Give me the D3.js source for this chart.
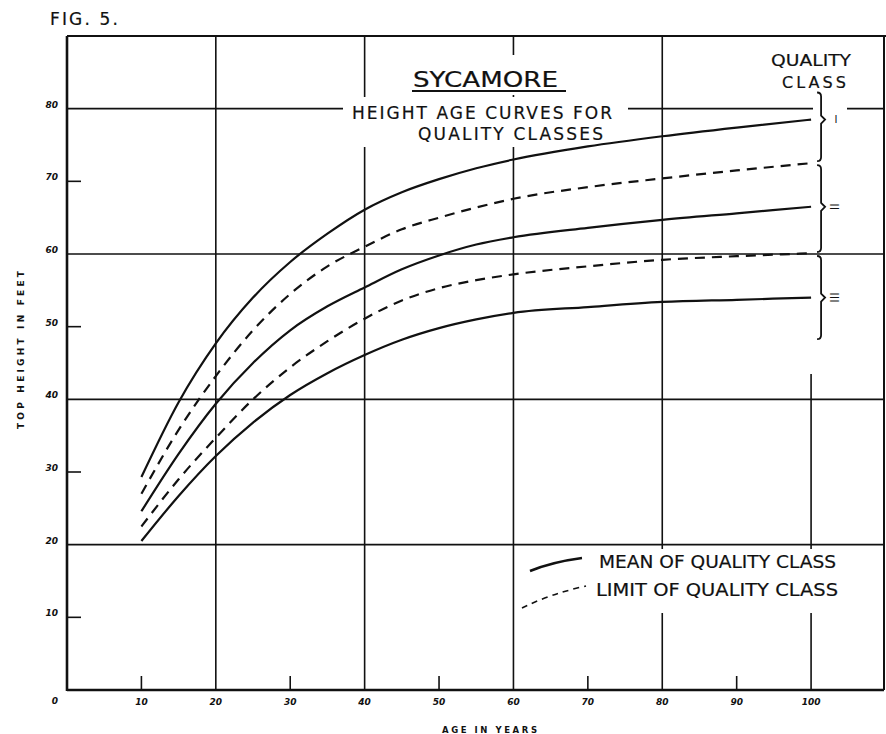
<!DOCTYPE html>
<html>
<head>
<meta charset="utf-8">
<script src="https://cdn.jsdelivr.net/npm/d3@7"></script>
<style>
  body { margin: 0; background: #fff; }
  svg { display: block; }
  text { font-family: "DejaVu Sans", sans-serif; fill: #111; }
  .pen { stroke: #111; stroke-width: 0.2; }
</style>
</head>
<body>
<svg id="chart" width="886" height="734"></svg>
<script>
// ages
const ages = [10, 15, 20, 25, 30, 35, 40, 45, 50, 55, 60, 70, 80, 90, 100]

// top height in feet, one array per curve
const meanI =       [29.3, 39.6, 47.7, 54.0, 58.9, 62.8, 66.1, 68.5, 70.3, 71.8, 73.0, 74.8, 76.2, 77.4, 78.5]
const limitI_II =   [27.0, 35.8, 43.2, 49.5, 54.5, 58.3, 61.0, 63.4, 65.0, 66.4, 67.6, 69.2, 70.4, 71.5, 72.5]
const meanII =      [24.6, 32.5, 39.4, 45.0, 49.5, 52.8, 55.4, 57.9, 59.8, 61.3, 62.3, 63.6, 64.7, 65.6, 66.5]
const limitII_III = [22.5, 29.0, 34.7, 40.0, 44.4, 48.0, 51.1, 53.6, 55.3, 56.4, 57.2, 58.3, 59.2, 59.7, 60.1]
const meanIII =     [20.5, 26.7, 32.2, 36.8, 40.6, 43.6, 46.1, 48.2, 49.8, 51.0, 51.9, 52.7, 53.4, 53.7, 54.0]

const curves = [
  { values: meanI, kind: "mean" },
  { values: limitI_II, kind: "limit" },
  { values: meanII, kind: "mean" },
  { values: limitII_III, kind: "limit" },
  { values: meanIII, kind: "mean" }
]

// quality class brackets on the right
const classNames = ["I", "II", "III"]
const classTop = [82.5, 72.5, 60]
const classBottom = [72.5, 60, 48]
const classMid = [78.5, 66.5, 54]

const xTicks = [10, 20, 30, 40, 50, 60, 70, 80, 90, 100]
const xTickLabels = ["10", "20", "30", "40", "50", "60", "70", "80", "90", "100"]
const yTicks = [0, 10, 20, 30, 40, 50, 60, 70, 80]
const yTickLabels = ["0", "10", "20", "30", "40", "50", "60", "70", "80"]
const xMajor = [20, 40, 60, 80]
const xMinor = [10, 30, 50, 70, 90]
const yMajor = [20, 40, 60, 80]
const yMinor = [10, 30, 50, 70]

const svg = d3.select("#chart")
svg.append("rect").attr("width", 886).attr("height", 734).attr("fill", "#fff")

const xMax = 109.8
const yMax = 90
const x = d3.scaleLinear().domain([0, xMax]).range([67, 884])
const y = d3.scaleLinear().domain([0, yMax]).range([690, 36])

const grid = svg.append("g").attr("stroke", "#111").attr("stroke-width", 1.6)

// full lines
for (let v of xMajor) {
  grid.append("line").attr("x1", x(v)).attr("x2", x(v)).attr("y1", y(0)).attr("y2", y(yMax))
}
// age 100 line stops under the brackets
grid.append("line").attr("x1", x(100)).attr("x2", x(100)).attr("y1", y(0)).attr("y2", y(43.5))
for (let v of yMajor) {
  grid.append("line").attr("x1", x(0)).attr("x2", x(xMax)).attr("y1", y(v)).attr("y2", y(v))
}
// short ticks
for (let v of xMinor) {
  grid.append("line").attr("x1", x(v)).attr("x2", x(v)).attr("y1", y(0)).attr("y2", y(0) - 14)
}
for (let v of yMinor) {
  grid.append("line").attr("x1", x(0)).attr("x2", x(0) + 14).attr("y1", y(v)).attr("y2", y(v))
}

// white patches where the lettering breaks the grid
const blank = svg.append("g").attr("fill", "#fff")
blank.append("rect").attr("x", 400).attr("y", 55).attr("width", 172).attr("height", 40)
blank.append("rect").attr("x", 343).attr("y", 97).attr("width", 285).attr("height", 50)
blank.append("rect").attr("x", 590).attr("y", 549).attr("width", 258).attr("height", 64)
blank.append("rect").attr("x", 813).attr("y", y(83)).attr("width", 34).attr("height", y(73) - y(83))

// curves
const line = d3.line()
  .x((d, i) => x(ages[i]))
  .y((d) => y(d))
  .curve(d3.curveMonotoneX)

svg.append("g")
  .selectAll("path")
  .data(curves)
  .join("path")
  .attr("d", (c) => line(c.values))
  .attr("fill", "none")
  .attr("stroke", "#111")
  .attr("stroke-width", 2.2)
  .attr("stroke-dasharray", (c) => c.kind == "limit" ? "10,7" : null)

// brackets
const bx = x(100) + 10
const brackets = svg.append("g").attr("fill", "none").attr("stroke", "#111").attr("stroke-width", 1.8)
for (let i = 0; i < classNames.length; i++) {
  let t = y(classTop[i]) + 2
  let b = y(classBottom[i]) - 2
  let m = y(classMid[i])
  brackets.append("path")
    .attr("d", `M${bx - 4},${t} Q${bx},${t} ${bx},${t + 4} L${bx},${m - 4} L${bx + 4},${m} L${bx},${m + 4} L${bx},${b - 4} Q${bx},${b} ${bx - 4},${b}`)
  let lx = bx + 15
  let lbl = svg.append("text")
    .attr("font-family", "'DejaVu Serif', serif")
    .attr("font-size", 12)
    .attr("fill", "#111")
    .attr("text-anchor", "middle")
    .attr("dominant-baseline", "central")
    .text(classNames[i])
  if (i == 0) {
    lbl.attr("x", lx).attr("y", m).attr("font-size", 10).attr("font-family", "'DejaVu Sans', sans-serif")
  } else {
    lbl.attr("transform", `translate(${lx - 2},${m}) rotate(90)`)
  }
}

// frame
const frame = svg.append("g").attr("stroke", "#111")
frame.append("line").attr("x1", x(0)).attr("x2", x(0)).attr("y1", y(0) + 1).attr("y2", y(yMax)).attr("stroke-width", 2.6)
frame.append("line").attr("x1", x(0)).attr("x2", x(xMax)).attr("y1", y(0)).attr("y2", y(0)).attr("stroke-width", 2.6)
frame.append("line").attr("x1", x(0)).attr("x2", 886).attr("y1", y(yMax)).attr("y2", y(yMax)).attr("stroke-width", 2)
frame.append("line").attr("x1", x(xMax)).attr("x2", x(xMax)).attr("y1", y(0)).attr("y2", y(yMax)).attr("stroke-width", 2)

// tick labels
svg.append("g")
  .selectAll("text")
  .data(xTicks)
  .join("text")
  .attr("x", (d) => x(d))
  .attr("y", y(0) + 15)
  .attr("text-anchor", "middle")
  .attr("font-size", 9)
  .attr("font-weight", "bold")
  .attr("font-style", "italic")
  .text((d, i) => xTickLabels[i])

svg.append("g")
  .selectAll("text")
  .data(yTicks)
  .join("text")
  .attr("x", x(0) - 9)
  .attr("y", (d) => d == 0 ? y(0) + 14 : y(d) - 1)
  .attr("text-anchor", "end")
  .attr("font-size", 9)
  .attr("font-weight", "bold")
  .attr("font-style", "italic")
  .text((d, i) => yTickLabels[i])

// axis titles
svg.append("text")
  .attr("x", 442).attr("y", 733)
  .attr("font-size", 8.5).attr("font-weight", "bold")
  .attr("textLength", 95).attr("lengthAdjust", "spacing")
  .text("AGE IN YEARS")

svg.append("text")
  .attr("transform", "translate(24,350) rotate(-90)")
  .attr("text-anchor", "middle")
  .attr("font-size", 9).attr("font-weight", "bold")
  .attr("textLength", 158).attr("lengthAdjust", "spacing")
  .text("TOP HEIGHT IN FEET")

// headings
svg.append("text").attr("class", "pen").attr("x", 50).attr("y", 25).attr("font-size", 17)
  .attr("textLength", 68).attr("lengthAdjust", "spacing").text("FIG. 5.")

svg.append("text").attr("class", "pen").attr("x", 413).attr("y", 87).attr("font-size", 21)
  .attr("textLength", 145).attr("lengthAdjust", "spacingAndGlyphs").text("SYCAMORE")
svg.append("line").attr("x1", 412).attr("x2", 566).attr("y1", 91).attr("y2", 91)
  .attr("stroke", "#111").attr("stroke-width", 2)

svg.append("text").attr("class", "pen").attr("x", 352).attr("y", 119).attr("font-size", 17)
  .attr("textLength", 260).attr("lengthAdjust", "spacing").text("HEIGHT AGE CURVES FOR")
svg.append("text").attr("class", "pen").attr("x", 418).attr("y", 140).attr("font-size", 17)
  .attr("textLength", 185).attr("lengthAdjust", "spacing").text("QUALITY CLASSES")

svg.append("text").attr("class", "pen").attr("x", 771).attr("y", 66).attr("font-size", 16)
  .attr("textLength", 80).attr("lengthAdjust", "spacingAndGlyphs").text("QUALITY")
svg.append("text").attr("class", "pen").attr("x", 782).attr("y", 88).attr("font-size", 16)
  .attr("textLength", 64).attr("lengthAdjust", "spacing").text("CLASS")

// legend
const legend = svg.append("g")
legend.append("path")
  .attr("d", "M530,571 Q552,562 582,558")
  .attr("fill", "none").attr("stroke", "#111").attr("stroke-width", 2.6)
legend.append("path")
  .attr("d", "M522,608 Q550,594 586,586")
  .attr("fill", "none").attr("stroke", "#111").attr("stroke-width", 1.6)
  .attr("stroke-dasharray", "6,5")
legend.append("text").attr("class", "pen").attr("x", 599).attr("y", 568).attr("font-size", 17)
  .attr("textLength", 237).attr("lengthAdjust", "spacingAndGlyphs").text("MEAN OF QUALITY CLASS")
legend.append("text").attr("class", "pen").attr("x", 596).attr("y", 596).attr("font-size", 17)
  .attr("textLength", 242).attr("lengthAdjust", "spacingAndGlyphs").text("LIMIT OF QUALITY CLASS")
</script>
</body>
</html>
